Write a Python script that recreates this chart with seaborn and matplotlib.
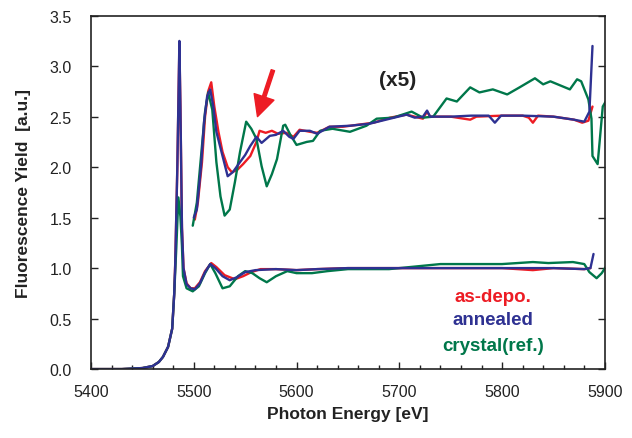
import numpy as np
import pandas as pd
import matplotlib
matplotlib.use("Agg")
import matplotlib.pyplot as plt
from matplotlib.ticker import MultipleLocator
import seaborn as sns

# --- normal curves (x1) ---
e_blue = [5400, 5430, 5450, 5460, 5466, 5470, 5475, 5479, 5481, 5482, 5484, 5486, 5487, 5488.5, 5490, 5493,
          5497, 5501, 5506, 5511, 5516, 5521, 5528, 5535, 5542, 5550, 5560, 5580, 5600, 5620, 5650, 5700,
          5750, 5800, 5850, 5880, 5886, 5889]
v_blue = [0.0, 0.0, 0.01, 0.03, 0.07, 0.12, 0.22, 0.4, 0.75, 1.06, 2.0, 3.25, 2.6, 1.4, 1.0, 0.84,
          0.80, 0.79, 0.85, 0.96, 1.04, 1.0, 0.92, 0.88, 0.91, 0.96, 0.98, 0.99, 0.98, 0.99, 1.0, 1.0,
          1.0, 1.0, 1.0, 0.99, 1.0, 1.14]

e_red = [5400, 5430, 5450, 5460, 5466, 5470, 5475, 5479, 5481, 5482, 5484, 5486, 5487, 5488.5, 5490, 5493,
         5497, 5501, 5506, 5511, 5517, 5522, 5530, 5540, 5548, 5556, 5565, 5580, 5600, 5620, 5650, 5700,
         5750, 5800, 5830, 5850, 5880, 5886]
v_red = [0.0, 0.0, 0.01, 0.03, 0.07, 0.12, 0.22, 0.4, 0.75, 1.06, 2.0, 3.2, 2.6, 1.4, 1.0, 0.85,
         0.80, 0.80, 0.86, 0.97, 1.05, 1.01, 0.93, 0.89, 0.92, 0.96, 0.99, 0.99, 0.98, 0.99, 1.0, 1.0,
         1.0, 1.0, 0.98, 1.0, 0.99, 1.0]

e_green = [5400, 5430, 5450, 5460, 5466, 5470, 5475, 5479, 5481, 5483, 5485, 5487, 5488.5, 5489.5, 5493,
           5499, 5505, 5511, 5516, 5521, 5528, 5535, 5543, 5550, 5557, 5564, 5571, 5580, 5591, 5600,
           5615, 5630, 5650, 5690, 5720, 5740, 5800, 5830, 5845, 5869, 5880, 5885, 5892, 5897, 5902]
v_green = [0.0, 0.0, 0.01, 0.03, 0.07, 0.12, 0.22, 0.4, 0.75, 1.2, 1.70, 1.51, 1.22, 0.92, 0.80,
           0.77, 0.82, 0.95, 1.04, 0.95, 0.80, 0.82, 0.92, 0.97, 0.95, 0.90, 0.86, 0.92, 0.97, 0.95,
           0.95, 0.97, 0.99, 0.99, 1.02, 1.04, 1.04, 1.06, 1.05, 1.06, 1.04, 0.96, 0.90, 0.95, 1.03]

# --- magnified curves (x5) ---
e_red5 = [5501, 5504, 5508, 5511, 5514, 5517, 5520, 5524, 5528, 5533, 5537, 5542, 5548, 5555, 5561, 5564,
          5570, 5576, 5582, 5590, 5597, 5603, 5613, 5620, 5632, 5645, 5660, 5675, 5691, 5707, 5715, 5723,
          5727, 5730, 5750, 5769, 5775, 5800, 5820, 5826, 5830, 5835, 5850, 5870, 5878, 5884, 5888]
v_red5 = [1.48, 1.65, 2.05, 2.5, 2.75, 2.84, 2.6, 2.35, 2.15, 2.0, 1.95, 1.97, 2.03, 2.11, 2.25, 2.36,
          2.34, 2.36, 2.33, 2.34, 2.30, 2.37, 2.35, 2.34, 2.40, 2.40, 2.42, 2.44, 2.49, 2.52, 2.5, 2.48,
          2.55, 2.5, 2.50, 2.47, 2.50, 2.51, 2.51, 2.49, 2.44, 2.51, 2.50, 2.47, 2.44, 2.46, 2.6]

e_blue5 = [5500, 5503, 5507, 5510, 5513, 5516, 5519, 5522, 5528, 5533, 5538, 5545, 5550, 5555, 5561, 5566,
           5574, 5580, 5587, 5593, 5597, 5603, 5613, 5620, 5632, 5652, 5671, 5691, 5707, 5715, 5723, 5727,
           5730, 5750, 5770, 5787, 5793, 5799, 5820, 5850, 5870, 5880, 5885, 5888]
v_blue5 = [1.50, 1.58, 2.0, 2.45, 2.7, 2.77, 2.6, 2.35, 2.11, 1.91, 1.95, 2.05, 2.12, 2.21, 2.3, 2.24,
           2.31, 2.32, 2.36, 2.3, 2.28, 2.36, 2.36, 2.33, 2.40, 2.41, 2.43, 2.48, 2.52, 2.49, 2.50, 2.56,
           2.5, 2.50, 2.51, 2.51, 2.44, 2.51, 2.51, 2.50, 2.47, 2.45, 2.55, 3.2]

e_green5 = [5499, 5503, 5507, 5511, 5514, 5518, 5522, 5526, 5530, 5535, 5540, 5545, 5551, 5556, 5561, 5566,
            5571, 5576, 5581, 5587, 5589, 5594, 5600, 5610, 5616, 5623, 5635, 5652, 5668, 5678, 5694, 5712,
            5723, 5733, 5746, 5756, 5769, 5778, 5791, 5805, 5817, 5832, 5840, 5847, 5866, 5873, 5877, 5884,
            5887, 5888, 5893, 5898, 5902]
v_green5 = [1.42, 1.65, 2.1, 2.55, 2.74, 2.57, 2.05, 1.71, 1.52, 1.58, 1.85, 2.15, 2.45, 2.38, 2.28, 2.01,
            1.81, 1.93, 2.08, 2.41, 2.42, 2.32, 2.22, 2.25, 2.26, 2.36, 2.38, 2.35, 2.41, 2.48, 2.49, 2.55,
            2.49, 2.5, 2.68, 2.65, 2.79, 2.74, 2.77, 2.72, 2.79, 2.88, 2.82, 2.85, 2.77, 2.87, 2.85, 2.67,
            2.48, 2.11, 2.03, 2.6, 2.67]

RED = "#ed1c24"
BLUE = "#2e3192"
GREEN = "#00774a"

sns.set_style("ticks")
plt.rcParams["font.family"] = ["Liberation Sans", "DejaVu Sans"]

fig = plt.figure(figsize=(6.32, 4.39), dpi=100)
ax = fig.add_axes([0.144, 0.157, 0.813, 0.805])

curves = [(e_red, v_red, RED), (e_green, v_green, GREEN), (e_blue, v_blue, BLUE),
          (e_red5, v_red5, RED), (e_green5, v_green5, GREEN), (e_blue5, v_blue5, BLUE)]
for e, v, c in curves:
    df = pd.DataFrame({"E": e, "Y": v})
    sns.lineplot(data=df, x="E", y="Y", color=c, lw=1.7, ax=ax, sort=False)

ax.set_xlim(5400, 5900)
ax.set_ylim(0, 3.5)
ax.xaxis.set_major_locator(MultipleLocator(100))
ax.xaxis.set_minor_locator(MultipleLocator(20))
ax.yaxis.set_major_locator(MultipleLocator(0.5))
ax.yaxis.set_major_formatter(matplotlib.ticker.FormatStrFormatter("%.1f"))
ax.tick_params(which="both", direction="in", right=True, top=False, colors="#222222",
               labelsize=11.5, width=1)
ax.tick_params(which="major", length=5, pad=14)
ax.tick_params(axis="x", which="major", pad=11)
ax.tick_params(which="minor", length=3)
for s in ax.spines.values():
    s.set_visible(True)
    s.set_linewidth(1.2)
    s.set_color("#222222")

ax.set_xlabel("Photon Energy [eV]", fontsize=12.5, fontweight="bold", color="#222222", labelpad=5)
ax.set_ylabel("Fluorescence Yield  [a.u.]", fontsize=12.5, fontweight="bold", color="#222222", labelpad=13)

ax.text(5698, 2.87, "(x5)", fontsize=15, fontweight="bold", color="#222222", ha="center", va="center")
ax.annotate("", xy=(5562, 2.5), xytext=(5577, 2.96),
            arrowprops=dict(facecolor=RED, edgecolor=RED, width=2.5, headwidth=15, headlength=15, shrink=0))

ax.text(5791, 0.72, "as-depo.", fontsize=13.5, fontweight="bold", color=RED, ha="center", va="center")
ax.text(5791, 0.49, "annealed", fontsize=13.5, fontweight="bold", color=BLUE, ha="center", va="center")
ax.text(5791, 0.23, "crystal(ref.)", fontsize=13.5, fontweight="bold", color=GREEN, ha="center", va="center")

fig.savefig("out.png", dpi=100)
